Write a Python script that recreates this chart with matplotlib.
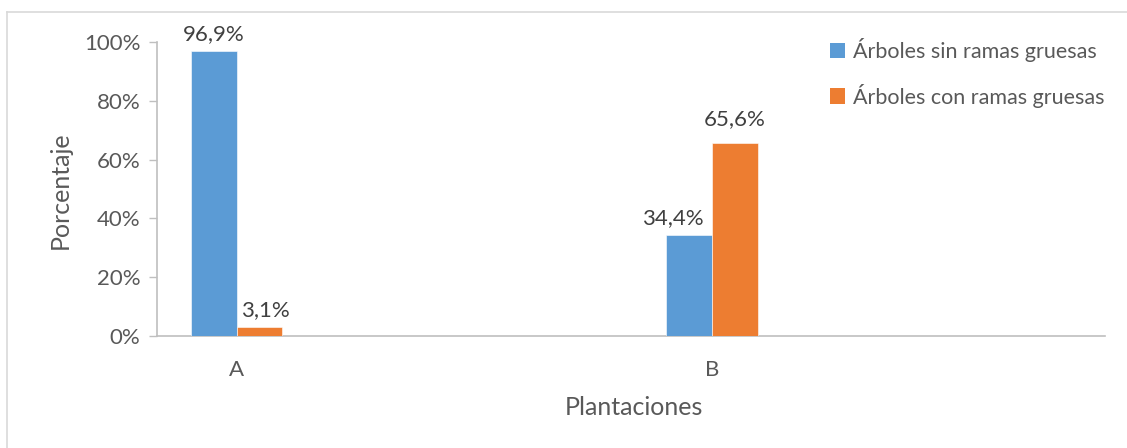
"""Bar chart: percentage of trees with/without thick branches per plantation."""

import matplotlib
matplotlib.use("Agg")
import matplotlib.pyplot as plt
import matplotlib.ticker as ticker
from matplotlib.lines import Line2D
from matplotlib.patches import Patch

# ---------------------------------------------------------------------------
# Data
# ---------------------------------------------------------------------------

categories = ["A", "B"]
sin_ramas = [96.9, 34.4]
con_ramas = [3.1, 65.6]
series_names = ["Árboles sin ramas gruesas", "Árboles con ramas gruesas"]
y_ticks = [0, 20, 40, 60, 80, 100]

# ---------------------------------------------------------------------------
# Style
# ---------------------------------------------------------------------------

BLUE = "#5b9bd5"
ORANGE = "#ed7d31"
TEXT = "#595959"
AXIS = "#bfbfbf"
FONT = ["Lato", "DejaVu Sans"]

BAR_W = 0.096
# label nudges (points) so labels don't collide with the neighbouring bar
NUDGE_SIN = [(0, 5), (-12, 5)]
NUDGE_CON = [(4, 5), (0, 10)]

plt.rcParams["font.family"] = FONT

fig = plt.figure(figsize=(11.27, 4.48), dpi=100)
fig.patch.set_facecolor("white")

# chart border (only top + left edges are visible in the crop)
fig.add_artist(Line2D([7 / 1127, 7 / 1127], [0, 1 - 12 / 448],
                      transform=fig.transFigure, color="#d9d9d9", lw=1.2))
fig.add_artist(Line2D([7 / 1127, 1], [1 - 12 / 448, 1 - 12 / 448],
                      transform=fig.transFigure, color="#d9d9d9", lw=1.2))

ax = fig.add_axes([157 / 1127, 1 - 336 / 448, (1105 - 157) / 1127, (336 - 42) / 448])

x = list(range(len(categories)))
xb = [i - BAR_W / 2 for i in x]
xo = [i + BAR_W / 2 for i in x]
b1 = ax.bar(xb, sin_ramas, width=BAR_W, color=BLUE, edgecolor="white", linewidth=0.4, zorder=3)
b2 = ax.bar(xo, con_ramas, width=BAR_W, color=ORANGE, edgecolor="white", linewidth=0.4, zorder=3)

fmt = lambda v: f"{v:.1f}%".replace(".", ",")
for bars, vals, nudges in ((b1, sin_ramas, NUDGE_SIN), (b2, con_ramas, NUDGE_CON)):
    for rect, v, off in zip(bars, vals, nudges):
        ax.annotate(fmt(v), (rect.get_x() + rect.get_width() / 2, v), xytext=off,
                    textcoords="offset points", ha="center", va="bottom",
                    fontsize=16, color="#404040")

ax.set_ylim(0, 100)
ax.set_xlim(-0.168, 1.827)
ax.set_yticks(y_ticks)
ax.yaxis.set_major_formatter(ticker.FuncFormatter(lambda v, _: f"{v:.0f}%"))
ax.set_xticks(x)
ax.set_xticklabels(categories)

ax.tick_params(axis="y", length=6, width=1, color=AXIS, labelsize=16,
               labelcolor=TEXT, pad=6)
ax.tick_params(axis="x", length=0, labelsize=16, labelcolor=TEXT, pad=17)

for side in ("top", "right"):
    ax.spines[side].set_visible(False)
for side in ("left", "bottom"):
    ax.spines[side].set_color(AXIS)
    ax.spines[side].set_linewidth(1.2)

fig.text(60 / 1127, 1 - 190 / 448, "Porcentaje", rotation=90, ha="center",
         va="center", fontsize=18, color=TEXT)
fig.text(634 / 1127, 1 - 407 / 448, "Plantaciones", ha="center", va="center",
         fontsize=18, color=TEXT)

handles = [Patch(facecolor=BLUE), Patch(facecolor=ORANGE)]
fig.legend(handles, series_names, loc="upper left",
           bbox_to_anchor=(830 / 1127, 1 - 38 / 448), frameon=False,
           fontsize=15.5, labelcolor=TEXT, handlelength=0.7, handleheight=0.7,
           handletextpad=0.35, labelspacing=1.0, borderaxespad=0, borderpad=0)

fig.savefig("out.png", dpi=100, facecolor="white")
